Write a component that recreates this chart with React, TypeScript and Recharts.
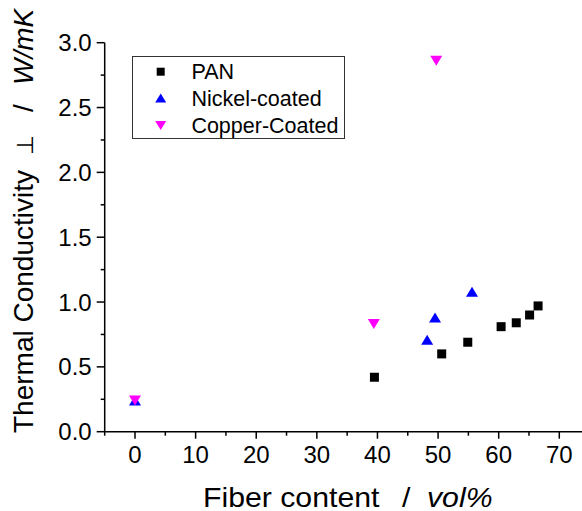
import React from 'react';
import { ScatterChart, Scatter, XAxis, YAxis, Legend, Label } from 'recharts';

// ---- data ----
const panX = [39.5, 50.6, 54.9, 60.4, 62.9, 65.1, 66.5];
const panY = [0.42, 0.6, 0.69, 0.81, 0.84, 0.9, 0.97];
const nickelX = [0, 48.2, 49.5, 55.6];
const nickelY = [0.24, 0.71, 0.88, 1.08];
const copperX = [0, 39.4, 49.7];
const copperY = [0.24, 0.83, 2.86];
const seriesNames = ['PAN', 'Nickel-coated', 'Copper-Coated'];

const xTicks = [-5, 0, 5, 10, 15, 20, 25, 30, 35, 40, 45, 50, 55, 60, 65, 70, 75];
const yTicks = [0, 0.25, 0.5, 0.75, 1, 1.25, 1.5, 1.75, 2, 2.25, 2.5, 2.75, 3];
const xTitleParts = ['Fiber content', '/', 'vol%'];
const yTitleParts = ['Thermal Conductivity', '\u22A5', '/', 'W/mK'];

const zip = (xs: number[], ys: number[]) => xs.map((x, i) => ({ x, y: ys[i] }));
const panData = zip(panX, panY);
const nickelData = zip(nickelX, nickelY);
const copperData = zip(copperX, copperY);

const FONT = '"Liberation Sans", Arial, Helvetica, sans-serif';
const BLUE = '#0000ff';
const MAGENTA = '#ff00ff';

// ---- marker shapes ----
const Square = (p: any) => (
  <rect x={p.cx - 4.5} y={p.cy - 4.5} width={9} height={9} fill="#000" />
);
const UpTri = (p: any) => (
  <polygon
    points={`${p.cx},${p.cy - 5} ${p.cx + 6},${p.cy + 5} ${p.cx - 6},${p.cy + 5}`}
    fill={BLUE}
  />
);
const DownTri = (p: any) => (
  <polygon
    points={`${p.cx - 6},${p.cy - 5} ${p.cx + 6},${p.cy - 5} ${p.cx},${p.cy + 5}`}
    fill={MAGENTA}
  />
);

// ---- ticks ----
const XTick = (props: any) => {
  const { x, y, payload } = props;
  const v = payload.value;
  const major = v % 10 === 0;
  return (
    <g>
      <line x1={x} y1={y} x2={x} y2={y + (major ? 7 : 4)} stroke="#000" strokeWidth={1.5} />
      {major && (
        <text x={x} y={y + 31.3} textAnchor="middle" fontSize={24} fontFamily={FONT} fill="#000">
          {String(v)}
        </text>
      )}
    </g>
  );
};

const YTick = (props: any) => {
  const { x, y, payload } = props;
  const v = payload.value;
  const major = Math.abs(v * 2 - Math.round(v * 2)) < 1e-6;
  return (
    <g>
      <line x1={x - (major ? 8 : 4)} y1={y} x2={x} y2={y} stroke="#000" strokeWidth={1.5} />
      {major && (
        <text x={x - 13} y={y + 8.6} textAnchor="end" fontSize={24} fontFamily={FONT} fill="#000">
          {v.toFixed(1)}
        </text>
      )}
    </g>
  );
};

// ---- axis titles ----
const SX = 1.08;
const XTitle = () => (
  <g transform={`scale(${SX},1)`}>
    <text y={507.5} fontSize={28} fontFamily={FONT} fill="#000">
      <tspan x={203 / SX}>{xTitleParts[0]}</tspan>
      <tspan x={402 / SX}>{xTitleParts[1]}</tspan>
      <tspan x={427 / SX} fontStyle="italic">{xTitleParts[2]}</tspan>
    </text>
  </g>
);

const YTitle = () => (
  <g transform="rotate(-90)">
    <text y={33} fontSize={28} fontFamily={FONT} fill="#000">
      <tspan x={-433}>{yTitleParts[0]}</tspan>
      <tspan x={-155} fontFamily='"DejaVu Sans", sans-serif' fontSize={23}>{yTitleParts[1]}</tspan>
      <tspan x={-112}>{yTitleParts[2]}</tspan>
      <tspan x={-85} fontStyle="italic">{yTitleParts[3]}</tspan>
    </text>
  </g>
);

// ---- legend ----
const LegendMarker = ({ idx, cx, cy }: { idx: number; cx: number; cy: number }) => {
  if (idx === 0) return <rect x={cx - 4} y={cy - 4} width={8} height={8} fill="#000" />;
  if (idx === 1)
    return <polygon points={`${cx},${cy - 5} ${cx + 5.5},${cy + 4} ${cx - 5.5},${cy + 4}`} fill={BLUE} />;
  return <polygon points={`${cx - 5.5},${cy - 4} ${cx + 5.5},${cy - 4} ${cx},${cy + 5}`} fill={MAGENTA} />;
};

const renderLegend = (props: any) => {
  const payload = (props.payload || []) as any[];
  return (
    <div
      style={{
        width: 213,
        height: 83,
        border: '1px solid #333',
        boxSizing: 'border-box',
        background: '#fff',
        position: 'relative',
      }}
    >
      <svg width={211} height={81} style={{ position: 'absolute', left: 0, top: 0 }}>
        {payload.map((e: any, i: number) => {
          const idx = Math.max(0, seriesNames.indexOf(e.value));
          const cy = 14.7 + idx * 26.7;
          return (
            <g key={e.value ?? i}>
              <LegendMarker idx={idx} cx={27.7} cy={cy} />
              <text x={58.4} y={cy + 7.5} fontSize={21.5} fontFamily={FONT} fill="#000">
                {e.value}
              </text>
            </g>
          );
        })}
      </svg>
    </div>
  );
};

export default function App() {
  const axisLine = { stroke: '#000', strokeWidth: 1.5 };
  return (
    <div
      style={{
        position: 'absolute',
        left: 0,
        top: 0,
        width: 582,
        height: 511,
        overflow: 'hidden',
        background: '#fff',
      }}
    >
      <ScatterChart width={600} height={511} margin={{ top: 42.7, right: 10.4, bottom: 0, left: 0 }}>
        <XAxis
          xAxisId="x"
          type="number"
          dataKey="x"
          domain={[-5, 75]}
          ticks={xTicks}
          interval={0}
          tickSize={0}
          tickMargin={0}
          tickLine={false}
          tick={XTick}
          axisLine={axisLine}
          height={79.3}
          allowDataOverflow
        >
          <Label content={XTitle} />
        </XAxis>
        <XAxis
          xAxisId="top"
          orientation="top"
          type="number"
          domain={[-5, 75]}
          height={0}
          tick={false}
          tickLine={false}
          axisLine={axisLine}
        />
        <YAxis
          yAxisId="y"
          type="number"
          dataKey="y"
          domain={[0, 3]}
          ticks={yTicks}
          interval={0}
          tickSize={0}
          tickMargin={0}
          tickLine={false}
          tick={YTick}
          axisLine={axisLine}
          width={104.7}
          allowDataOverflow
        >
          <Label content={YTitle} />
        </YAxis>
        <Scatter
          xAxisId="x"
          yAxisId="y"
          name={seriesNames[0]}
          data={panData}
          fill="#000"
          shape={Square}
          isAnimationActive={false}
        />
        <Scatter
          xAxisId="x"
          yAxisId="y"
          name={seriesNames[1]}
          data={nickelData}
          fill={BLUE}
          shape={UpTri}
          isAnimationActive={false}
        />
        <Scatter
          xAxisId="x"
          yAxisId="y"
          name={seriesNames[2]}
          data={copperData}
          fill={MAGENTA}
          shape={DownTri}
          isAnimationActive={false}
        />
        <Legend
          layout="vertical"
          align="center"
          verticalAlign="middle"
          content={renderLegend}
          wrapperStyle={{ left: 132, top: 56, width: 213, height: 83 }}
        />
      </ScatterChart>
    </div>
  );
}
